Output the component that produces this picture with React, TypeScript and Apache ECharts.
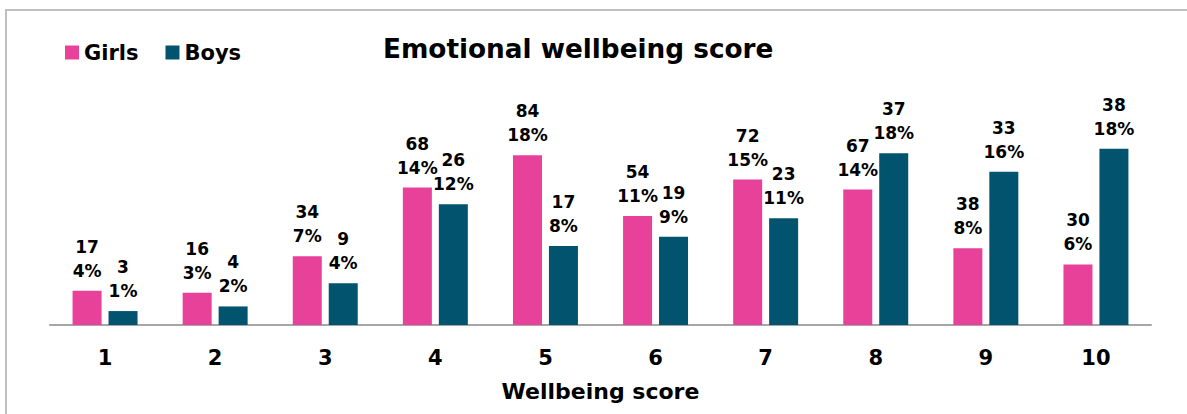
import React, { useEffect, useRef } from "react";
import * as echarts from "echarts";

const categories = ["1", "2", "3", "4", "5", "6", "7", "8", "9", "10"];
const girlsCounts = [17, 16, 34, 68, 84, 54, 72, 67, 38, 30];
const boysCounts = [3, 4, 9, 26, 17, 19, 23, 37, 33, 38];
const girlsPctLabels = ["4%", "3%", "7%", "14%", "18%", "11%", "15%", "14%", "8%", "6%"];
const boysPctLabels = ["1%", "2%", "4%", "12%", "8%", "9%", "11%", "18%", "16%", "18%"];

const FONT = "DejaVu Sans";
const PINK = "#e8419a";
const TEAL = "#02536d";

const sum = (a: number[]) => a.reduce((s, v) => s + v, 0);

export default function App() {
  const ref = useRef<HTMLDivElement>(null);
  useEffect(() => {
    if (!ref.current) return;
    const chart = echarts.init(ref.current, undefined, { renderer: "svg" });
    const gTot = sum(girlsCounts);
    const bTot = sum(boysCounts);
    const girlsVals = girlsCounts.map((c) => (c / gTot) * 100);
    const boysVals = boysCounts.map((c) => (c / bTot) * 100);
    const label = (counts: number[], pcts: string[]) => ({
      show: true,
      position: "top",
      distance: 8,
      fontFamily: FONT,
      fontWeight: "bold",
      fontSize: 17,
      lineHeight: 24,
      color: "#000",
      formatter: (p: any) => `${counts[p.dataIndex]}\n${pcts[p.dataIndex]}`,
    });
    chart.setOption({
      animation: false,
      graphic: [
        {
          type: "rect",
          shape: { x: 6, y: 10, width: 1250, height: 600 },
          style: { fill: "none", stroke: "#bfbfbf", lineWidth: 2 },
          silent: true,
        },
      ],
      title: {
        text: "Emotional wellbeing score",
        left: 378,
        top: 31,
        textStyle: { fontFamily: FONT, fontWeight: "bold", fontSize: 26.3, color: "#000" },
      },
      legend: {
        left: 60,
        top: 37,
        itemWidth: 14,
        itemHeight: 14,
        itemGap: 27,
        icon: "rect",
        textStyle: { fontFamily: FONT, fontWeight: "bold", fontSize: 21, color: "#000" },
        data: ["Girls", "Boys"],
      },
      grid: { left: 50, right: 36, top: 131, bottom: 89 },
      xAxis: {
        type: "category",
        data: categories,
        name: "Wellbeing score",
        nameLocation: "middle",
        nameGap: 55,
        nameTextStyle: { fontFamily: FONT, fontWeight: "bold", fontSize: 22, color: "#000" },
        axisLine: { lineStyle: { color: "#a6a6a6", width: 2 } },
        axisTick: { show: false },
        axisLabel: { fontFamily: FONT, fontWeight: "bold", fontSize: 21, color: "#000", margin: 22 },
      },
      yAxis: { type: "value", min: 0, max: 20, show: false, splitLine: { show: false } },
      series: [
        {
          name: "Girls",
          type: "bar",
          data: girlsVals,
          barWidth: 29,
          barGap: "24%",
          itemStyle: { color: PINK },
          label: label(girlsCounts, girlsPctLabels),
        },
        {
          name: "Boys",
          type: "bar",
          data: boysVals,
          barWidth: 29,
          itemStyle: { color: TEAL },
          label: label(boysCounts, boysPctLabels),
        },
      ],
    });
    return () => chart.dispose();
  }, []);
  return (
    <div
      ref={ref}
      style={{ position: "fixed", left: 0, top: 0, width: "1187px", height: "414px", background: "#fff" }}
    />
  );
}
